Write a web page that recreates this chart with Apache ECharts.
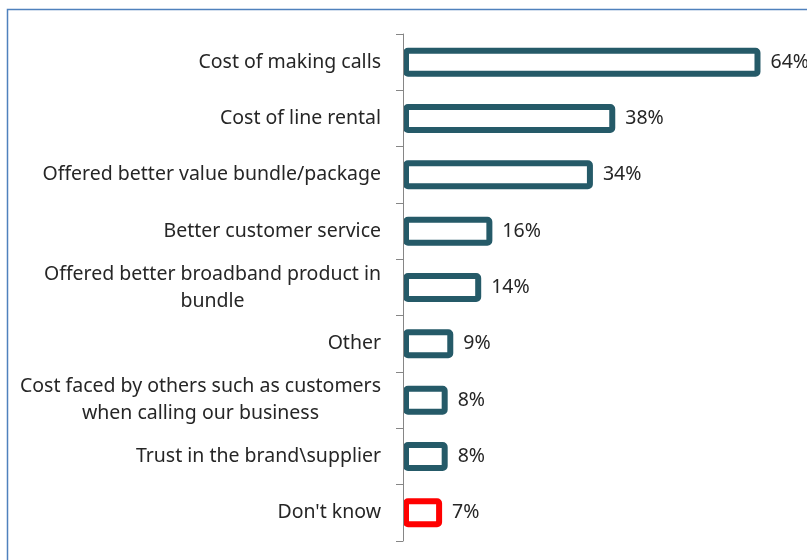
<!DOCTYPE html>
<html><head><meta charset="utf-8">
<script src="https://cdn.jsdelivr.net/npm/echarts@6/dist/echarts.min.js"></script>
<style>html,body{margin:0;padding:0;background:#fff}#c{width:807px;height:560px}</style>
</head><body><div id="c"></div>
<script>
var categories = ["Cost of making calls","Cost of line rental","Offered better value bundle/package","Better customer service","Offered better broadband product in\nbundle","Other","Cost faced by others such as customers\nwhen calling our business","Trust in the brand\\supplier","Don't know"];
var values = [64,38,34,16,14,9,8,8,7];
var barColors = ["#255A68","#255A68","#255A68","#255A68","#255A68","#255A68","#255A68","#255A68","#FF0000"];
var FONT = "Noto Sans";
var FS = 19.5;
var chart = echarts.init(document.getElementById('c'));
chart.setOption({
  animation:false,
  graphic:[{type:'rect',shape:{x:7.5,y:9.5,width:900,height:700},style:{fill:'none',stroke:'#4F81BD',lineWidth:1.5},silent:true}],
  grid:{left:403,top:34,bottom:19,right:13,containLabel:false},
  xAxis:{type:'value',min:0,max:70,show:false},
  yAxis:{type:'category',inverse:true,data:categories,z:3,
    axisLine:{lineStyle:{color:'#868686',width:1}},
    axisTick:{show:true,length:7,lineStyle:{color:'#868686'}},
    axisLabel:{margin:22,fontFamily:FONT,fontSize:FS,color:'#262626',lineHeight:27,
      formatter:function(v){return v.split('\n').map(function(s){return '{c|'+s+'}';}).join('\n');},
      rich:{c:{align:'center',fontFamily:FONT,fontSize:FS,color:'#262626',lineHeight:27}}}
  },
  series:[{type:'bar',barWidth:29,
    data:values.map(function(v,i){return {value:v,itemStyle:{color:'#fff',borderColor:barColors[i],borderWidth:6,borderRadius:2}};}),
    label:{show:true,position:'right',distance:10,fontFamily:FONT,fontSize:FS,color:'#262626',formatter:'{c}%'}
  }]
});
</script></body></html>
